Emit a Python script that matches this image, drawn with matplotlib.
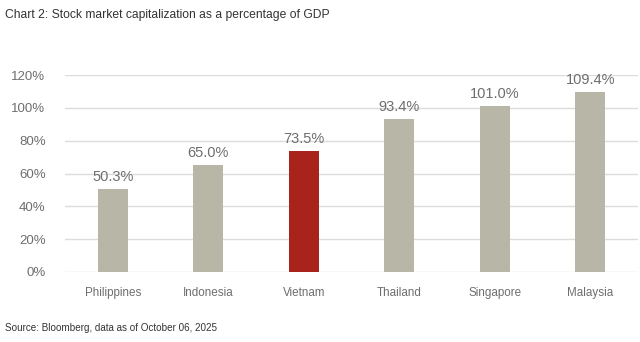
import numpy as np
import matplotlib.pyplot as plt

countries = ["Philippines", "Indonesia", "Vietnam", "Thailand", "Singapore", "Malaysia"]
mcap_pct = [50.3, 65.0, 73.5, 93.4, 101.0, 109.4]
highlight = "Vietnam"
y_ticks = [0, 20, 40, 60, 80, 100, 120]

grey_bar = "#b8b6a7"
red_bar = "#a8231c"
txt = "#6e6e6e"

plt.rcParams['font.family'] = ['Liberation Sans', 'DejaVu Sans']

fig = plt.figure(figsize=(6.4, 3.42), dpi=100)
ax = fig.add_axes([65 / 640, 70 / 342, 573 / 640, 197 / 342])

x = np.arange(len(countries))
colors = [red_bar if c == highlight else grey_bar for c in countries]
bars = ax.bar(x, mcap_pct, width=0.31, color=colors, zorder=3)

# value labels above bars
for b, v in zip(bars, mcap_pct):
    ax.text(b.get_x() + b.get_width() / 2, v + 3, f"{v:.1f}%", ha="center", va="bottom",
            fontsize=10.5, color=txt)

ax.set_xlim(-0.5, len(countries) - 0.5)
ax.set_ylim(0, 120)
ax.set_yticks(y_ticks)
ax.set_yticklabels([f"{t}%" for t in y_ticks])
ax.set_xticks(x)
ax.set_xticklabels(countries, fontsize=8.4)
ax.tick_params(axis="both", length=0, labelcolor=txt)
ax.tick_params(axis="y", pad=14, labelsize=9.5)
ax.tick_params(axis="x", pad=11)
ax.grid(axis="y", color="#dcdcdc", linewidth=1, zorder=0)
for s in ax.spines.values():
    s.set_visible(False)

fig.text(5 / 640, 1 - 15 / 342, "Chart 2: Stock market capitalization as a percentage of GDP",
         fontsize=8.7, color="#333333", va="center", ha="left")
fig.text(5 / 640, 1 - 328 / 342, "Source: Bloomberg, data as of October 06, 2025",
         fontsize=7.1, color="#333333", va="center", ha="left")

fig.savefig("out.png", dpi=100)
